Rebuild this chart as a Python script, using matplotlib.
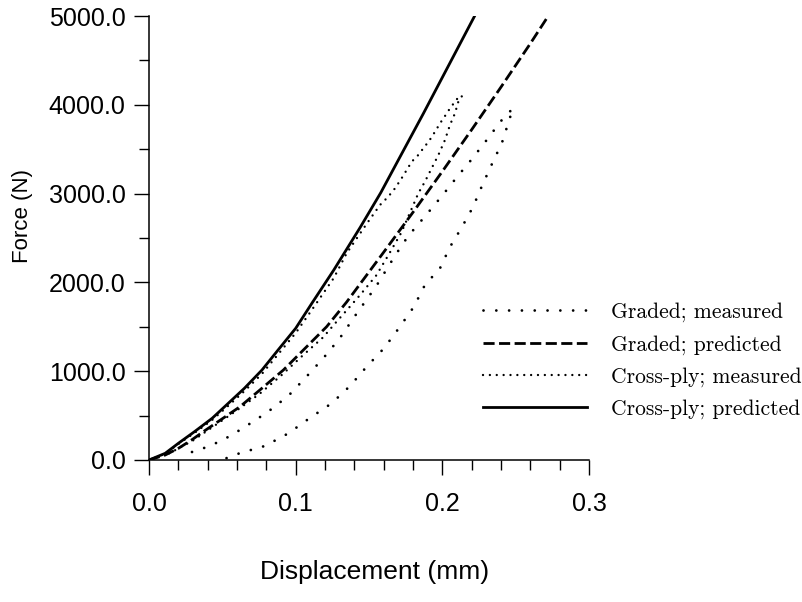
import numpy as np
import matplotlib.pyplot as plt

# -------------------------
# Data (displacement in mm, force in N)
# -------------------------
# Cross-ply; predicted (solid)
cp_pred_x = [0.0, 0.011, 0.020, 0.031, 0.043, 0.054, 0.065, 0.077, 0.088, 0.100,
             0.111, 0.126, 0.144, 0.158, 0.172, 0.187, 0.208, 0.222]
cp_pred_y = [0, 75, 188, 319, 469, 638, 807, 1013, 1239, 1483,
             1764, 2140, 2620, 3010, 3440, 3900, 4560, 5000]

# Graded; predicted (dashed)
gr_pred_x = [0.0, 0.011, 0.020, 0.029, 0.038, 0.047, 0.062, 0.0757, 0.0916, 0.1075,
             0.1211, 0.1348, 0.160, 0.180, 0.200, 0.220, 0.240, 0.260, 0.2722]
gr_pred_y = [0, 56, 131, 225, 330, 431, 600, 790, 1013, 1276,
             1501, 1780, 2340, 2790, 3250, 3720, 4200, 4690, 5000]

# Cross-ply; measured (loading then unloading)
cp_meas_x = [0.0, 0.011, 0.020, 0.031, 0.043, 0.054, 0.065, 0.077, 0.088, 0.100,
             0.111, 0.126, 0.1348, 0.1484, 0.1575, 0.1631, 0.1677, 0.1722, 0.1757,
             0.1791, 0.1836, 0.187, 0.1911, 0.195, 0.1984, 0.2018, 0.2052, 0.2086,
             0.2116, 0.2134,
             0.2109, 0.2086, 0.2052, 0.2018, 0.1973, 0.1927, 0.1881, 0.1836, 0.1802,
             0.172, 0.164, 0.155, 0.144, 0.135, 0.128, 0.1186, 0.105, 0.090, 0.075,
             0.060, 0.045, 0.030, 0.020, 0.012]
cp_meas_y = [0, 70, 180, 305, 450, 610, 775, 970, 1190, 1430,
             1690, 2050, 2330, 2660, 2872, 2965, 3059, 3172, 3266,
             3359, 3435, 3510, 3596, 3697, 3791, 3874, 3960, 4035,
             4099, 4099,
             4035, 3904, 3773, 3604, 3435, 3285, 3134, 3003, 2872,
             2560, 2330, 2080, 1860, 1690, 1560, 1380, 1180, 950, 740,
             560, 390, 220, 130, 60]

# Graded; measured (loading then unloading)
gr_meas_x = [0.0293, 0.0395, 0.0504, 0.062, 0.0736, 0.085, 0.096, 0.1077, 0.119,
             0.130, 0.1416, 0.155, 0.1677, 0.1766, 0.1895, 0.1997, 0.210, 0.2202,
             0.2297, 0.240, 0.2481,
             0.2454, 0.2406, 0.2338, 0.227, 0.2209, 0.2134, 0.2052, 0.1984, 0.1881,
             0.1806, 0.1706, 0.1602, 0.1484, 0.137, 0.1245, 0.1093, 0.095, 0.079,
             0.0616, 0.0525]
gr_meas_y = [90, 146, 225, 338, 460, 590, 740, 945, 1150,
             1370, 1650, 1960, 2300, 2520, 2770, 2973, 3187, 3390,
             3592, 3818, 3960,
             3818, 3570, 3333, 3086, 2849, 2624, 2399, 2159, 1971,
             1726, 1490, 1258, 1051, 833, 638, 469, 300, 158,
             75, 19]

labels = ["Graded; measured", "Graded; predicted",
          "Cross-ply; measured", "Cross-ply; predicted"]

# -------------------------
# Plot
# -------------------------
plt.rcParams["font.family"] = ["Liberation Sans", "DejaVu Sans"]

fig = plt.figure(figsize=(8.03, 6.02), dpi=100)
ax = fig.add_axes([0.1856, 0.2359, 0.5479, 0.7375])

ax.plot(gr_meas_x, gr_meas_y, color="black", lw=2.0,
        linestyle=(0, (0.01, 4.6)), dash_capstyle="round", label=labels[0])
ax.plot(gr_pred_x, gr_pred_y, color="black", lw=2.0,
        linestyle=(0, (4.0, 1.6)), label=labels[1])
ax.plot(cp_meas_x, cp_meas_y, color="black", lw=1.7,
        linestyle=(0, (0.01, 2.9)), dash_capstyle="round", label=labels[2])
ax.plot(cp_pred_x, cp_pred_y, color="black", lw=2.0, linestyle="-", label=labels[3])

ax.set_xlim(0, 0.3)
ax.set_ylim(0, 5000)
ax.set_xticks([0.0, 0.1, 0.2, 0.3])
ax.set_xticks(np.arange(0, 0.301, 0.02), minor=True)
ax.set_yticks(np.arange(0, 5001, 1000))
ax.set_yticks(np.arange(0, 5001, 500), minor=True)
ax.xaxis.set_major_formatter(plt.FormatStrFormatter("%.1f"))
ax.yaxis.set_major_formatter(plt.FormatStrFormatter("%.1f"))

for side in ["top", "right"]:
    ax.spines[side].set_visible(False)
for side in ["left", "bottom"]:
    ax.spines[side].set_linewidth(1.1)

ax.tick_params(axis="both", which="major", direction="out", length=11, width=1.0,
               labelsize=18)
ax.tick_params(axis="both", which="minor", direction="out", length=7.5, width=1.0)
ax.tick_params(axis="x", which="major", pad=12)
ax.tick_params(axis="y", which="major", pad=6)

ax.set_xlabel("Displacement (mm)", fontsize=19)
ax.xaxis.set_label_coords(0.513, -0.225)
ax.set_ylabel("Force (N)", fontsize=16)
ax.yaxis.set_label_coords(-0.264, 0.55)

ax.legend(loc="upper left", bbox_to_anchor=(0.759, 0.355), frameon=False,
          prop={"family": "cmr10", "size": 15.5}, handlelength=4.85,
          handletextpad=1.1, labelspacing=0.58, borderpad=0, borderaxespad=0)

fig.savefig("out.png", dpi=100)
